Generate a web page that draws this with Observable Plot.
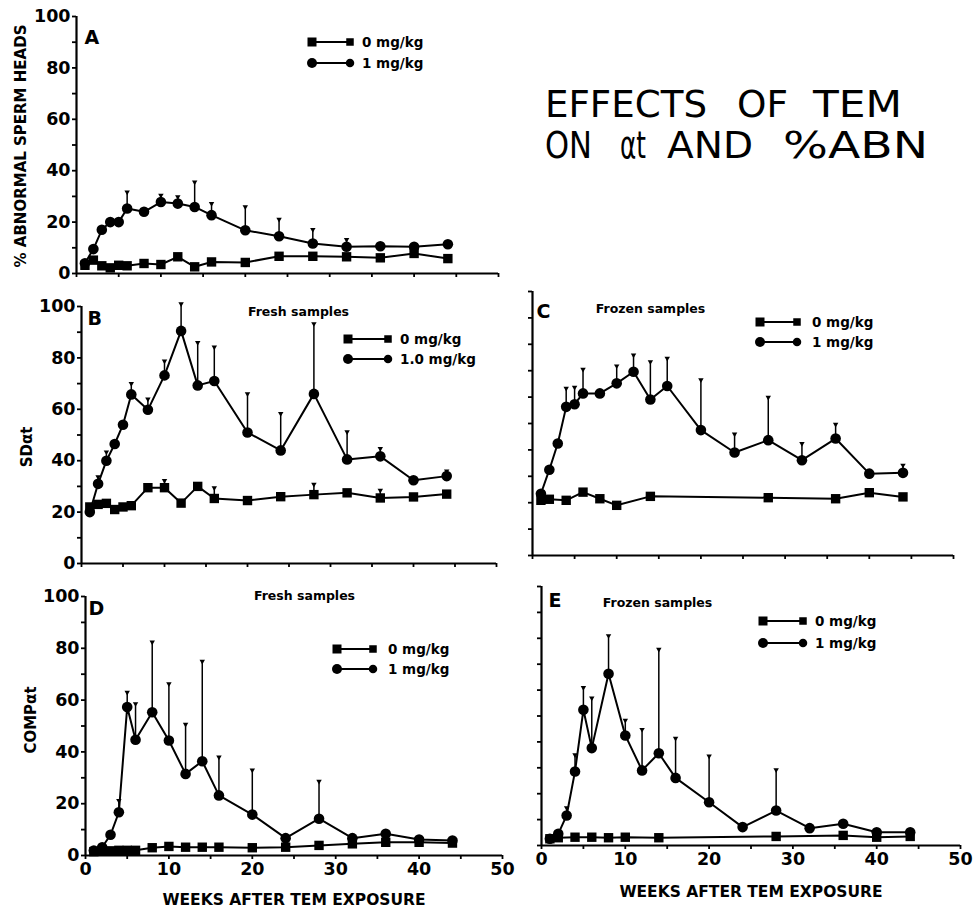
<!DOCTYPE html>
<html><head><meta charset="utf-8">
<script src="https://cdn.jsdelivr.net/npm/d3@7"></script>
<script src="https://cdn.jsdelivr.net/npm/@observablehq/plot@0.6"></script>
<style>
body{margin:0;background:#fff;}
#wrap{position:relative;width:974px;height:911px;overflow:hidden;background:#fff;font-family:"DejaVu Sans",sans-serif;}
#wrap > svg{position:absolute;}
</style></head><body><div id="wrap"></div>
<script>
// ---------- data ----------
const weeks = [1,2,3,4,5,6,8,10,12,14,16,20,24,28,32,36,40,44];
const weeksSparse = [1,2,4,6,8,10,14,28,36,40,44];

// A: % abnormal sperm heads
const aControl = [3.2,5.2,3.0,2.2,3.2,3.0,3.9,3.5,6.5,2.6,4.5,4.3,6.7,6.7,6.5,6.1,7.8,5.8];
const aTem     = [4.0,9.5,17,20,20,25.3,24,27.8,27.2,25.9,22.7,16.8,14.5,11.7,10.4,10.6,10.4,11.4];
const aTemErr  = [null,null,null,null,null,31.7,null,30.4,29.8,35.6,27.2,25.9,21.1,17.1,13.2,null,null,null];

// B: SD alpha t, fresh
const bControl    = [22,23,23.4,21,22,22.5,29.5,29.5,23.5,30,25.3,24.5,26,26.8,27.5,25.5,25.9,27];
const bControlErr = [null,null,null,null,null,null,null,32.3,null,null,29.4,null,null,30.8,null,28.5,null,null];
const bTem        = [20,31,40,46.5,54,65.8,59.8,73.2,90.5,69.3,71,51,44,66,40.5,41.7,32.4,34];
const bTemErr     = [null,33.7,43.4,null,null,70,64,78.8,101,86,84.2,66,58.3,93.3,51.2,44.7,null,36];

// C: SD alpha t, frozen
const cControl = [20.9,21.3,20.9,24,21.5,19,22.4,21.9,21.5,23.8,22.2];
const cTem     = [23.4,32.5,42.4,56.3,57.3,61.4,61.4,65.2,69.6,59.1,64.2,47.5,39,43.7,36.1,44.3,31,31.3];
const cTemErr  = [null,null,null,63.3,63.7,70.5,null,71.8,75.9,73.4,74.7,66.5,46,59.9,42.4,49.7,null,34.2];

// D: COMP alpha t, fresh
const dControl = [1.5,1.8,1.8,2,2,2,3,3.5,3.2,3.2,3.2,3,3.2,3.9,4.5,5.1,5.1,4.8];
const dTem     = [1.9,3.2,8,16.7,57.3,44.7,55.3,44.4,31.5,36.4,23.2,15.8,6.7,14.2,6.7,8.4,6.2,5.8];
const dTemErr  = [null,null,null,21.2,63,58.6,82.4,66.3,50.6,75,38,33,null,28.6,null,null,null,null];

// E: COMP alpha t, frozen
const eControl = [2.6,3,3.2,3.2,3,3.2,3,3.5,3.9,3.2,3.5];
const eTem     = [2.6,4.5,11.6,28.6,52.4,37.6,66.3,42.5,29,35.6,26.1,16.7,7.1,13.5,6.7,8.4,5.1,5.1];
const eTemErr  = [null,null,14.5,35,61,56.9,81,48.3,44.8,75.7,41.4,34.5,null,29.2,null,null,null,null];

const xTicks = [0,5,10,15,20,25,30,35,40,45,50];
const yTicks = [0,10,20,30,40,50,60,70,80,90,100];
const xLabelTicks = [0,10,20,30,40,50];
const yLabelTicks = [0,20,40,60,80,100];

const xTitle = "WEEKS AFTER TEM EXPOSURE";
const titleLine1 = ["EFFECTS","OF","TEM"];
const titleLine2 = ["ON","αt","AND","%ABN"];

// ---------- helpers ----------
function rows(ws, vals, errs) {
  return ws.map((w, i) => ({week: w, value: vals[i], top: errs ? errs[i] : null}));
}

const FONT = "DejaVu Sans";

function panel(cfg) {
  const ctrl = rows(cfg.ctrlWeeks, cfg.ctrl, cfg.ctrlErr);
  const tem = rows(weeks, cfg.tem, cfg.temErr);
  const errRows = [...ctrl, ...tem].filter(d => d.top != null);
  const marks = [
    Plot.ruleY([0], {stroke: "#000", strokeWidth: 2.2}),
    Plot.ruleX([0], {stroke: "#000", strokeWidth: 2.2}),
    Plot.axisY({ticks: yTicks, tickSize: 4, tickPadding: 2, strokeWidth: 1.8,
      tickFormat: d => cfg.yLabels && yLabelTicks.includes(d) ? String(d) : "",
      fontSize: 17.5, fontWeight: "bold", label: null}),
    Plot.axisX({ticks: xTicks, tickSize: 4, tickPadding: 3, strokeWidth: 1.8,
      tickFormat: d => cfg.xLabels && xLabelTicks.includes(d) ? String(d) : "",
      fontSize: 17.5, fontWeight: "bold", label: null}),
    Plot.ruleX(errRows, {x: "week", y1: "value", y2: "top", stroke: "#000", strokeWidth: 1.5}),
    Plot.dot(errRows, {x: "week", y: "top", symbol: "triangle2", rotate: 180, r: 2.6, fill: "#000", stroke: "none"}),
    Plot.line(ctrl, {x: "week", y: "value", stroke: "#000", strokeWidth: 2}),
    Plot.line(tem, {x: "week", y: "value", stroke: "#000", strokeWidth: 2}),
    Plot.dot(ctrl, {x: "week", y: "value", symbol: "square", r: 5.3, fill: "#000", stroke: "none"}),
    Plot.dot(tem, {x: "week", y: "value", symbol: "circle", r: 5.3, fill: "#000", stroke: "none"}),
    Plot.text([cfg.letter], {frameAnchor: "top-left", textAnchor: "start", lineAnchor: "middle",
      dx: cfg.letterPos[0], dy: cfg.letterPos[1], fontSize: 19, fontWeight: "bold", fill: "#000"})
  ];
  if (cfg.sub) marks.push(Plot.text([cfg.sub], {frameAnchor: "top-left", textAnchor: "middle", lineAnchor: "middle",
      dx: cfg.subPos[0], dy: cfg.subPos[1], fontSize: 12.5, fontWeight: "bold", fill: "#000"}));
  if (cfg.ylab) marks.push(Plot.text([cfg.ylab], {frameAnchor: "left", textAnchor: "middle", lineAnchor: "middle",
      rotate: -90, dx: cfg.ylabPos[0], dy: cfg.ylabPos[1], fontSize: cfg.ylabSize || 15, fontWeight: "bold", fill: "#000"}));
  if (cfg.xlab) marks.push(Plot.text([cfg.xlab], {frameAnchor: "bottom", textAnchor: "middle", lineAnchor: "middle",
      dy: cfg.xlabDy, fontSize: 15.5, fontWeight: "bold", fill: "#000"}));

  const svg = Plot.plot({
    width: cfg.w, height: cfg.h,
    marginLeft: cfg.m[0], marginRight: cfg.m[1], marginTop: cfg.m[2], marginBottom: cfg.m[3],
    x: {domain: [0, 50]},
    y: {domain: [0, 100]},
    style: {background: "none", fontFamily: FONT, color: "#000", overflow: "visible"},
    marks
  });
  svg.style.left = cfg.left + "px";
  svg.style.top = cfg.top + "px";
  svg.style.position = "absolute";
  document.getElementById("wrap").appendChild(svg);
}

panel({left: 0, top: 0, w: 510, h: 300, m: [76, 12, 16, 27],
  ctrlWeeks: weeks, ctrl: aControl, ctrlErr: null, tem: aTem, temErr: aTemErr,
  yLabels: true, xLabels: false, letter: "A", letterPos: [8, 21],
  ylab: "% ABNORMAL SPERM HEADS", ylabPos: [-55, 1], ylabSize: 15});

panel({left: 0, top: 285, w: 510, h: 300, m: [81, 14, 21, 22],
  ctrlWeeks: weeks, ctrl: bControl, ctrlErr: bControlErr, tem: bTem, temErr: bTemErr,
  yLabels: true, xLabels: false, letter: "B", letterPos: [6, 12],
  sub: "Fresh samples", subPos: [217, 5],
  ylab: "SDαt", ylabPos: [-54, 12]});

panel({left: 500, top: 280, w: 474, h: 300, m: [32, 21, 11, 25],
  ctrlWeeks: weeksSparse, ctrl: cControl, ctrlErr: null, tem: cTem, temErr: cTemErr,
  yLabels: false, xLabels: false, letter: "C", letterPos: [4, 20],
  sub: "Frozen samples", subPos: [118, 17]});

panel({left: 0, top: 575, w: 520, h: 336, m: [85, 18, 21, 56],
  ctrlWeeks: weeks, ctrl: dControl, ctrlErr: null, tem: dTem, temErr: dTemErr,
  yLabels: true, xLabels: true, letter: "D", letterPos: [3, 12],
  sub: "Fresh samples", subPos: [219, -1],
  ylab: "COMPαt", ylabPos: [-54, -6], xlab: xTitle, xlabDy: 45});

panel({left: 500, top: 575, w: 474, h: 336, m: [41, 14, 11, 66],
  ctrlWeeks: weeksSparse, ctrl: eControl, ctrlErr: null, tem: eTem, temErr: eTemErr,
  yLabels: false, xLabels: true, letter: "E", letterPos: [7, 14],
  sub: "Frozen samples", subPos: [116, 16],
  xlab: xTitle, xlabDy: 47});

// ---------- overlay: legends and title ----------
const overlay = d3.select("#wrap").append("svg")
  .attr("width", 974).attr("height", 911)
  .style("left", "0px").style("top", "0px").style("pointer-events", "none");

const legends = [
  {x1: 312, x2: 350, tx: 362, y: [42, 63], labels: ["0 mg/kg", "1 mg/kg"]},
  {x1: 348, x2: 388, tx: 400, y: [339, 359], labels: ["0 mg/kg", "1.0 mg/kg"]},
  {x1: 760, x2: 797, tx: 812, y: [322, 342], labels: ["0 mg/kg", "1 mg/kg"]},
  {x1: 337, x2: 373, tx: 388, y: [649, 669], labels: ["0 mg/kg", "1 mg/kg"]},
  {x1: 763, x2: 803, tx: 815, y: [621, 643], labels: ["0 mg/kg", "1 mg/kg"]}
];
legends.forEach(L => {
  L.y.forEach((y, i) => {
    const g = overlay.append("g");
    g.append("line").attr("x1", L.x1).attr("x2", L.x2).attr("y1", y).attr("y2", y)
      .attr("stroke", "#000").attr("stroke-width", 1.8);
    [L.x1, L.x2].forEach((x, j) => {
      const s = j === 0 ? 9 : 7.5;
      if (i === 0) g.append("rect").attr("x", x - s/2).attr("y", y - s/2).attr("width", s).attr("height", s).attr("fill", "#000");
      else g.append("circle").attr("cx", x).attr("cy", y).attr("r", s/2 + 0.5).attr("fill", "#000");
    });
    g.append("text").attr("x", L.tx).attr("y", y).attr("dy", "0.35em")
      .attr("font-family", FONT).attr("font-weight", "bold").attr("font-size", 13.5)
      .text(L.labels[i]);
  });
});

const titleWords = [
  {words: titleLine1, xs: [[545, 707], [737, 788], [813, 902]], y: 117},
  {words: titleLine2, xs: [[545, 592], [620, 646], [667, 753], [783, 928]], y: 158}
];
titleWords.forEach(line => {
  line.words.forEach((w, i) => {
    overlay.append("text").attr("x", line.xs[i][0]).attr("y", line.y)
      .attr("font-family", FONT).attr("font-size", 37).attr("fill", "#000")
      .attr("textLength", line.xs[i][1] - line.xs[i][0]).attr("lengthAdjust", "spacingAndGlyphs")
      .text(w);
  });
});
</script>
</body></html>
